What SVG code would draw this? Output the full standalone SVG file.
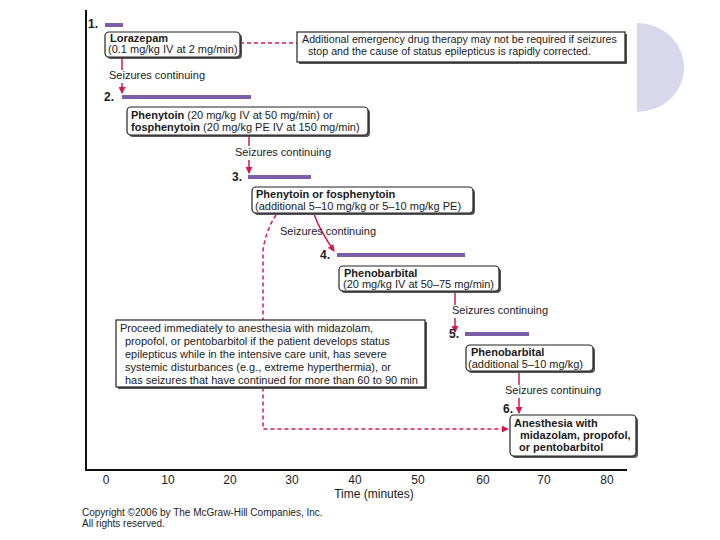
<svg xmlns="http://www.w3.org/2000/svg" width="720" height="540" viewBox="0 0 720 540">
<defs>
<marker id="ah" viewBox="0 0 8 8" refX="7" refY="4" markerWidth="7" markerHeight="7" markerUnits="userSpaceOnUse" orient="auto">
<path d="M0,0 L8,4 L0,8 Z" fill="#d2194f"/>
</marker>
<style>
text{font-family:"Liberation Sans",Arial,sans-serif;font-size:11px;fill:#1a1a1a}
.b{font-weight:bold}
.num{font-weight:bold;font-size:12px}
.tick{font-size:12px;text-anchor:middle}
.bar{fill:#7b5ea7}
.box{fill:#fff;stroke:#222;stroke-width:1.2}
.sh{fill:#555}
.sol{stroke:#d2194f;stroke-width:1.5;fill:none}
.dash{stroke:#d2194f;stroke-width:1.5;fill:none;stroke-dasharray:4 3}
.axis{stroke:#111;stroke-width:2;fill:none}
.copy{font-size:10px;fill:#222}
.bg{fill:#fff}
</style>
</defs>
<rect width="720" height="540" fill="#fff"/>
<path d="M637,23 A47,44.5 0 0 1 637,112 Z" fill="#d8d8ec"/>
<g id="axes">
<path class="axis" d="M86,10 L86,470 L627,470"/>
<text class="tick" x="106" y="484">0</text>
<text class="tick" x="168" y="484">10</text>
<text class="tick" x="230" y="484">20</text>
<text class="tick" x="292" y="484">30</text>
<text class="tick" x="355" y="484">40</text>
<text class="tick" x="418" y="484">50</text>
<text class="tick" x="483" y="484">60</text>
<text class="tick" x="544" y="484">70</text>
<text class="tick" x="607" y="484">80</text>
<text x="374" y="498" style="font-size:12px;text-anchor:middle">Time (minutes)</text>
</g>
<g id="connectors">
<path class="dash" d="M240,43 L297,43"/>
<path class="sol" d="M122,57 L122,93" marker-end="url(#ah)"/>
<path class="sol" d="M249,135 L249,173" marker-end="url(#ah)"/>
<path class="sol" d="M314,214 Q319,229 334,251" marker-end="url(#ah)"/>
<path class="sol" d="M455,290 L455,332" marker-end="url(#ah)"/>
<path class="sol" d="M519,371 L519,413" marker-end="url(#ah)"/>
<path class="dash" d="M276,215 Q266,230 263,250 L263,429 L508,429" marker-end="url(#ah)"/>
</g>
<g id="labels">
<rect class="bg" x="107" y="70" width="98" height="13"/>
<text x="109" y="79">Seizures continuing</text>
<rect class="bg" x="233" y="146" width="98" height="14"/>
<text x="235" y="156">Seizures continuing</text>
<text x="280" y="235">Seizures continuing</text>
<rect class="bg" x="450" y="305" width="98" height="13"/>
<text x="452" y="314">Seizures continuing</text>
<rect class="bg" x="503" y="385" width="98" height="13"/>
<text x="505" y="394">Seizures continuing</text>
</g>
<g id="step1">
<text class="num" x="88" y="28">1.</text>
<rect class="bar" x="105" y="23" width="18" height="4"/>
</g>
<g id="lorazepam">
<rect class="sh" x="107" y="34" width="135" height="25" rx="4"/>
<rect class="box" x="105" y="32" width="135" height="25" rx="4"/>
<text class="b" x="110" y="42">Lorazepam</text>
<text x="108" y="53">(0.1 mg/kg IV at 2 mg/min)</text>
</g>
<g id="note1">
<rect class="sh" x="299" y="34" width="328" height="30"/>
<rect class="box" x="297" y="32" width="328" height="30"/>
<text x="302" y="43" style="font-size:10.7px">Additional emergency drug therapy may not be required if seizures</text>
<text x="308" y="55" style="font-size:10.7px">stop and the cause of status epilepticus is rapidly corrected.</text>
</g>
<g id="step2">
<text class="num" x="104" y="101">2.</text>
<rect class="bar" x="122" y="95" width="129" height="4"/>
</g>
<g id="phenytoin">
<rect class="sh" x="129" y="109" width="241" height="28" rx="4"/>
<rect class="box" x="127" y="107" width="241" height="28" rx="4"/>
<text x="131" y="119"><tspan class="b">Phenytoin</tspan> (20 mg/kg IV at 50 mg/min) or</text>
<text x="131" y="131"><tspan class="b">fosphenytoin</tspan> (20 mg/kg PE IV at 150 mg/min)</text>
</g>
<g id="step3">
<text class="num" x="232" y="181">3.</text>
<rect class="bar" x="248" y="175" width="63" height="4"/>
</g>
<g id="phenytoin2">
<rect class="sh" x="254" y="189" width="221" height="26" rx="4"/>
<rect class="box" x="252" y="187" width="221" height="26" rx="4"/>
<text class="b" x="256" y="198">Phenytoin or fosphenytoin</text>
<text x="255" y="210">(additional 5–10 mg/kg or 5–10 mg/kg PE)</text>
</g>
<g id="step4">
<text class="num" x="320" y="259">4.</text>
<rect class="bar" x="337" y="253" width="128" height="4"/>
</g>
<g id="phenobarbital">
<rect class="sh" x="341" y="268" width="160" height="25" rx="4"/>
<rect class="box" x="339" y="266" width="160" height="25" rx="4"/>
<text class="b" x="344" y="277">Phenobarbital</text>
<text x="343" y="288">(20 mg/kg IV at 50–75 mg/min)</text>
</g>
<g id="note2">
<rect class="sh" x="118" y="322" width="309" height="67"/>
<rect class="box" x="116" y="320" width="309" height="67"/>
<text x="120" y="332">Proceed immediately to anesthesia with midazolam,</text>
<text x="125" y="345">propofol, or pentobarbitol if the patient develops status</text>
<text x="125" y="358">epilepticus while in the intensive care unit, has severe</text>
<text x="125" y="371">systemic disturbances (e.g., extreme hyperthermia), or</text>
<text x="125" y="384">has seizures that have continued for more than 60 to 90 min</text>
</g>
<g id="step5">
<text class="num" x="449" y="338">5.</text>
<rect class="bar" x="465" y="332" width="64" height="4"/>
</g>
<g id="phenobarbital2">
<rect class="sh" x="468" y="347" width="127" height="26" rx="4"/>
<rect class="box" x="466" y="345" width="127" height="26" rx="4"/>
<text class="b" x="471" y="356">Phenobarbital</text>
<text x="468" y="368">(additional 5–10 mg/kg)</text>
</g>
<g id="step6">
<text class="num" x="503" y="413">6.</text>
</g>
<g id="anesthesia">
<rect class="sh" x="512" y="417" width="126" height="41" rx="4"/>
<rect class="box" x="510" y="415" width="126" height="41" rx="4"/>
<text class="b" x="514" y="427">Anesthesia with</text>
<text class="b" x="520" y="439">midazolam, propofol,</text>
<text class="b" x="519" y="451">or pentobarbitol</text>
</g>
<g id="copyright">
<text class="copy" x="82" y="516">Copyright ©2006 by The McGraw-Hill Companies, Inc.</text>
<text class="copy" x="82" y="527">All rights reserved.</text>
</g>
</svg>
